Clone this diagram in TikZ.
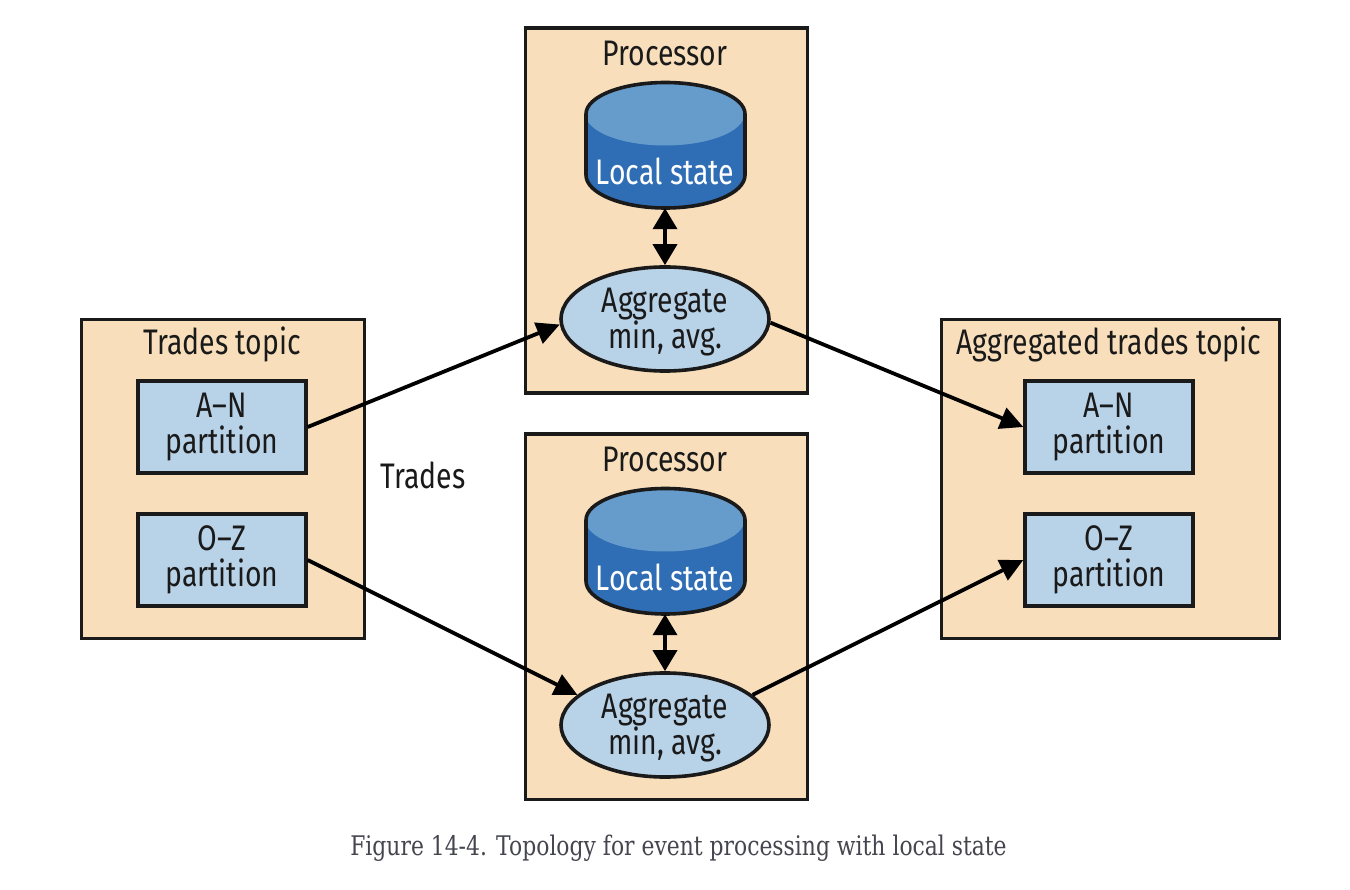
\documentclass[tikz,border=0pt]{standalone}
\usepackage{fontspec}
\setmainfont{Fira Sans}[FakeStretch=0.80]
\newfontfamily\capfont{DejaVu Serif}[FakeStretch=0.81]
\usetikzlibrary{arrows.meta,shapes.geometric}
\definecolor{peach}{HTML}{F8DEBB}
\definecolor{paleblue}{HTML}{B8D2E8}
\definecolor{deepblue}{HTML}{2F6DB5}
\definecolor{midblue}{HTML}{659CCB}
\definecolor{inkdark}{HTML}{1A1A1A}
\definecolor{captionink}{HTML}{45454F}
\tikzset{
  outerbox/.style={draw=inkdark,fill=peach,line width=3.4pt,inner sep=0pt,anchor=north west},
  partbox/.style={draw=inkdark,fill=paleblue,line width=3.4pt,minimum width=168pt,minimum height=92pt,inner sep=0pt,align=center,font=\fontsize{35.5}{36}\selectfont,text=inkdark},
  aggnode/.style={ellipse,draw=inkdark,fill=paleblue,line width=3.6pt,minimum width=208pt,minimum height=96pt,inner sep=0pt,align=center,font=\fontsize{35.5}{36}\selectfont,text=inkdark},
  heading/.style={font=\fontsize{35.5}{36}\selectfont,text=inkdark,inner sep=0pt},
  statelabel/.style={font=\fontsize{35.5}{36}\selectfont,text=white,inner sep=0pt},
  cylanchor/.style={minimum width=160pt,minimum height=126pt,inner sep=0pt},
  flow/.style={draw=black,line width=3.8pt,-{Triangle[length=23pt,width=22pt]}},
  twoway/.style={draw=black,line width=3.8pt,{Triangle[length=21pt,width=24pt]}-{Triangle[length=21pt,width=24pt]}},
}
\newcommand{\cyl}[2]{%
  \begin{scope}[yshift=-#2pt]
  \fill[deepblue] (586,114) -- (586,175) arc[start angle=180,end angle=0,x radius=79.5,y radius=33] -- (745,114) -- cycle;
  \fill[midblue] (665,114) ellipse[x radius=79.5,y radius=31.5];
  \draw[inkdark,line width=3.6pt] (586,175) -- (586,114) arc[start angle=180,end angle=360,x radius=79.5,y radius=31.5] -- (745,175) arc[start angle=0,end angle=180,x radius=79.5,y radius=33];
  \end{scope}%
  \node[cylanchor] (#1) at (665,{145+#2}) {};
}
\begin{document}
\begin{tikzpicture}[x=1pt,y=-1pt]
\useasboundingbox (0,0) rectangle (1350,890);
\fill[white] (0,0) rectangle (1350,890);
% containers
\node[outerbox,minimum width=283pt,minimum height=319pt] (tt) at (79.5,318) {};
\node[outerbox,minimum width=338pt,minimum height=319pt] (at) at (939.5,318) {};
\node[outerbox,minimum width=282pt,minimum height=365pt] (p1) at (523.5,26.5) {};
\node[outerbox,minimum width=282pt,minimum height=365pt] (p2) at (523.5,432.5) {};
% headings
\node[heading] (h1) at (222,344) {Trades topic};
\node[heading] (h2) at (1109,344) {Aggregated trades topic};
\node[heading] (h3) at (665,53) {Processor};
\node[heading] (h4) at (665,459) {Processor};
\node[heading] (trades) at (423,475) {Trades};
% partitions
\node[partbox] (l1) at (222,427) {A--N\\partition};
\node[partbox] (l2) at (222,560) {O--Z\\partition};
\node[partbox] (r1) at (1109,427) {A--N\\partition};
\node[partbox] (r2) at (1109,560) {O--Z\\partition};
% cylinders
\cyl{c1}{0}
\cyl{c2}{406}
\node[statelabel] (s1) at (665,171) {Local state};
\node[statelabel] (s2) at (665,577) {Local state};
% aggregates
\node[aggnode] (e1) at (665,319) {\rule{0pt}{30pt}Aggregate\\min, avg.};
\node[aggnode] (e2) at (665,725) {\rule{0pt}{30pt}Aggregate\\min, avg.};
% connectors
\draw[twoway] (c1.south) -- (e1.north);
\draw[twoway] (c2.south) -- (e2.north);
\draw[flow] (l1.east) -- (e1.183);
\draw[flow] (l2.east) -- (e2.161);
\draw[flow] (e1.-2) -- (r1.west);
\draw[flow] (e2.19) -- (r2.west);
% caption
\node[font=\capfont\fontsize{27}{28}\selectfont,text=captionink,inner sep=0pt] (cap) at (678.5,848) {Figure 14-4. Topology for event processing with local state};
\end{tikzpicture}
\end{document}
